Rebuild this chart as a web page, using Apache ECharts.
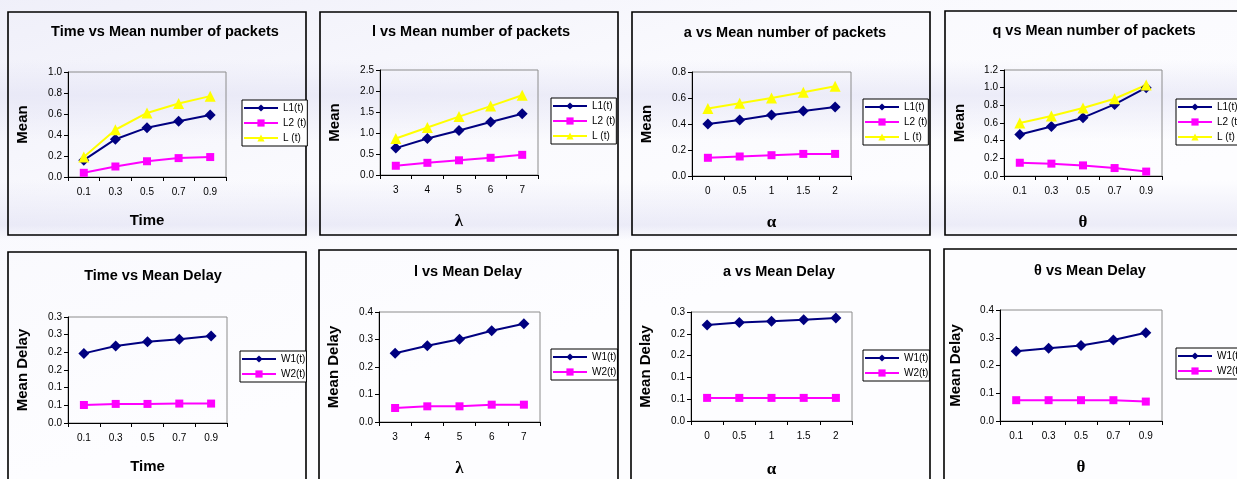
<!DOCTYPE html>
<html><head><meta charset="utf-8">
<script src="https://cdn.jsdelivr.net/npm/echarts@6/dist/echarts.min.js"></script>
<style>
html,body{margin:0;padding:0;background:#fff;}
#bg{position:absolute;left:0;top:0;width:1237px;height:479px;
background:
 linear-gradient(to bottom, rgba(255,255,255,0) 180px, rgba(222,222,242,0.55) 225px, rgba(255,255,255,0) 240px),
 linear-gradient(to bottom, rgba(255,255,255,0) 60px, rgba(226,226,244,0.6) 95px, rgba(255,255,255,0) 140px),
 linear-gradient(165deg, rgba(236,236,248,0.8) 0%, rgba(246,246,252,0.5) 30%, rgba(255,255,255,0.0) 60%),
 #fdfdff;}
#c{position:absolute;left:0;top:0;width:1237px;height:479px;}
</style>
</head><body><div id="bg"></div><div id="c"></div><script>
// ---- categories ----
const xTime = ['0.1','0.3','0.5','0.7','0.9'];
const xLambda = ['3','4','5','6','7'];
const xAlpha = ['0','0.5','1','1.5','2'];
const xTheta = ['0.1','0.3','0.5','0.7','0.9'];

// ---- mean number of packets ----
const timeL1 = [0.16,0.36,0.47,0.53,0.59];
const timeL2 = [0.04,0.10,0.15,0.18,0.19];
const timeL  = [0.19,0.45,0.61,0.70,0.77];
const lambdaL1 = [0.64,0.87,1.06,1.26,1.46];
const lambdaL2 = [0.22,0.29,0.35,0.41,0.48];
const lambdaL  = [0.87,1.13,1.39,1.64,1.90];
const alphaL1 = [0.40,0.43,0.47,0.50,0.53];
const alphaL2 = [0.14,0.15,0.16,0.17,0.17];
const alphaL  = [0.52,0.56,0.60,0.645,0.69];
const thetaL1 = [0.47,0.56,0.66,0.81,1.00];
const thetaL2 = [0.15,0.14,0.12,0.09,0.05];
const thetaL  = [0.60,0.68,0.77,0.875,1.03];

// ---- mean delay ----
const timeW1 = [0.197,0.218,0.230,0.237,0.246];
const timeW2 = [0.051,0.054,0.054,0.055,0.055];
const lambdaW1 = [0.250,0.277,0.301,0.332,0.357];
const lambdaW2 = [0.051,0.057,0.057,0.063,0.063];
const alphaW1 = [0.220,0.226,0.229,0.232,0.236];
const alphaW2 = [0.053,0.053,0.053,0.053,0.053];
const thetaW1 = [0.251,0.262,0.272,0.292,0.318];
const thetaW2 = [0.075,0.075,0.075,0.075,0.070];

// ---- tick labels for 0.05-step axes (as printed in the source) ----
const halfStepLabels = ['0.0','0.1','0.1','0.2','0.2','0.3','0.3'];

const NAVY='#000080', MAG='#FF00FF', YEL='#FFFF00';
const fmt1 = v => v.toFixed(1);
const fmtHalf = v => halfStepLabels[Math.round(v/0.05)];

const panels = [
 {title:'Time vs Mean number of packets', tx:160, ty:19, box:[8,12,298,223], grid:[68,72,158,105],
  cats:xTime, xName:'Time', greek:false, xGap:36, yName:'Mean', yGap:38, yMax:1.0, yInt:0.2, fmt:fmt1,
  series:[['L1(t)',timeL1,'diamond',NAVY,11],['L2 (t)',timeL2,'rect',MAG,8],['L (t)',timeL,'triangle',YEL,11]],
  legend:[242,100]},
 {title:'l vs Mean number of packets', tx:466, ty:19, box:[320,12,298,223], grid:[380,70,158,105],
  cats:xLambda, xName:'λ', greek:true, xGap:38, yName:'Mean', yGap:38, yMax:2.5, yInt:0.5, fmt:fmt1,
  series:[['L1(t)',lambdaL1,'diamond',NAVY,11],['L2 (t)',lambdaL2,'rect',MAG,8],['L (t)',lambdaL,'triangle',YEL,11]],
  legend:[551,98]},
 {title:'a vs Mean number of packets', tx:780, ty:20, box:[632,12,298,223], grid:[692,72,159,104],
  cats:xAlpha, xName:'α', greek:true, xGap:38, yName:'Mean', yGap:38, yMax:0.8, yInt:0.2, fmt:fmt1,
  series:[['L1(t)',alphaL1,'diamond',NAVY,11],['L2 (t)',alphaL2,'rect',MAG,8],['L (t)',alphaL,'triangle',YEL,11]],
  legend:[863,99]},
 {title:'q vs Mean number of packets', tx:1089, ty:18, box:[945,11,300,224], grid:[1004,70,158,106],
  cats:xTheta, xName:'θ', greek:true, xGap:38, yName:'Mean', yGap:37, yMax:1.2, yInt:0.2, fmt:fmt1,
  series:[['L1(t)',thetaL1,'diamond',NAVY,11],['L2 (t)',thetaL2,'rect',MAG,8],['L (t)',thetaL,'triangle',YEL,11]],
  legend:[1176,99]},
 {title:'Time vs Mean Delay', tx:148, ty:263, box:[8,252,298,240], grid:[68,317,159,106],
  cats:xTime, xName:'Time', greek:false, xGap:36, yName:'Mean Delay', yGap:38, yMax:0.3, yInt:0.05, fmt:fmtHalf,
  series:[['W1(t)',timeW1,'diamond',NAVY,11],['W2(t)',timeW2,'rect',MAG,8]],
  legend:[240,351]},
 {title:'l vs Mean Delay', tx:463, ty:259, box:[319,250,299,240], grid:[379,312,161,110],
  cats:xLambda, xName:'λ', greek:true, xGap:38, yName:'Mean Delay', yGap:38, yMax:0.4, yInt:0.1, fmt:fmt1,
  series:[['W1(t)',lambdaW1,'diamond',NAVY,11],['W2(t)',lambdaW2,'rect',MAG,8]],
  legend:[551,349]},
 {title:'a vs Mean Delay', tx:774, ty:259, box:[631,250,299,240], grid:[691,312,161,110],
  cats:xAlpha, xName:'α', greek:true, xGap:40, yName:'Mean Delay', yGap:38, yMax:0.25, yInt:0.05, fmt:fmtHalf,
  series:[['W1(t)',alphaW1,'diamond',NAVY,11],['W2(t)',alphaW2,'rect',MAG,8]],
  legend:[863,350]},
 {title:'θ vs Mean Delay', tx:1085, ty:258, box:[944,249,300,240], grid:[1000,310,162,111],
  cats:xTheta, xName:'θ', greek:true, xGap:38, yName:'Mean Delay', yGap:37, yMax:0.4, yInt:0.1, fmt:fmt1,
  series:[['W1(t)',thetaW1,'diamond',NAVY,11],['W2(t)',thetaW2,'rect',MAG,8]],
  legend:[1176,348]}
];

const SANS = '"Liberation Sans", Arial, sans-serif';
const SERIF = '"Liberation Serif", "DejaVu Serif", serif';

const option = {
  animation:false,
  backgroundColor:'transparent',
  title:[], grid:[], xAxis:[], yAxis:[], series:[], legend:[],
  graphic:{elements:[]}
};

panels.forEach((p,i)=>{
  option.graphic.elements.push({type:'rect', z:0, silent:true,
    shape:{x:p.box[0], y:p.box[1], width:p.box[2], height:p.box[3]},
    style:{fill:'none', stroke:'#000', lineWidth:1.6}});
  option.title.push({text:p.title, left:p.tx, top:p.ty, textAlign:'center',
    textStyle:{fontFamily:SANS, fontSize:14.5, fontWeight:'bold', color:'#000'}});
  option.grid.push({left:p.grid[0], top:p.grid[1], width:p.grid[2], height:p.grid[3],
    show:true, borderColor:'#8c8c8c', borderWidth:1, backgroundColor:'transparent', containLabel:false});
  option.xAxis.push({gridIndex:i, type:'category', data:p.cats, boundaryGap:true,
    axisLine:{show:true, onZero:false, lineStyle:{color:'#000', width:1}},
    axisTick:{show:true, length:4, lineStyle:{color:'#000'}},
    axisLabel:{fontFamily:SANS, fontSize:10, color:'#000', margin:10, interval:0},
    splitLine:{show:false},
    name:p.xName, nameLocation:'middle', nameGap:p.xGap,
    nameTextStyle:{fontFamily:p.greek?SERIF:SANS, fontSize:p.greek?17:15, fontWeight:'bold', color:'#000'}});
  option.yAxis.push({gridIndex:i, type:'value', min:0, max:p.yMax, interval:p.yInt,
    axisLine:{show:true, lineStyle:{color:'#000', width:1}},
    axisTick:{show:true, length:4, lineStyle:{color:'#000'}},
    axisLabel:{fontFamily:SANS, fontSize:10, color:'#000', margin:6, formatter:p.fmt},
    splitLine:{show:false},
    name:p.yName, nameLocation:'middle', nameGap:p.yGap,
    nameTextStyle:{fontFamily:SANS, fontSize:15, fontWeight:'bold', color:'#000'}});
  p.series.forEach(s=>{
    option.series.push({type:'line', name:s[0], xAxisIndex:i, yAxisIndex:i, data:s[1],
      symbol:s[2], symbolSize:s[4], showSymbol:true,
      lineStyle:{color:s[3], width:2}, itemStyle:{color:s[3], borderWidth:0},
      emphasis:{disabled:true}});
  });
  option.legend.push({orient:'vertical', left:p.legend[0], top:p.legend[1],
    data:p.series.map(s=>s[0]),
    backgroundColor:'#fff', borderColor:'#000', borderWidth:1,
    padding:[3,1,3,1], itemGap:5, itemWidth:34, itemHeight:9,
    textStyle:{fontFamily:SANS, fontSize:10, color:'#000'}, selectedMode:false});
});

const chart = echarts.init(document.getElementById('c'), null, {renderer:'canvas'});
chart.setOption(option);
</script></body></html>
